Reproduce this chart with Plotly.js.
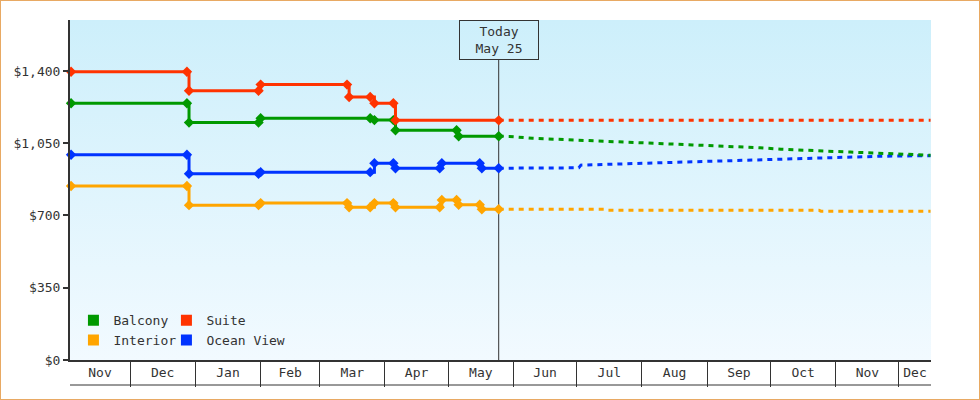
<!DOCTYPE html>
<html>
<head>
<meta charset="utf-8">
<script src="https://cdn.plot.ly/plotly-3.0.1.min.js"></script>
<style>
  body { margin: 0; background: #fff; }
  #wrap { position: relative; width: 980px; height: 400px; }
  #frame { position: absolute; left: 0; top: 0; width: 978px; height: 398px;
           border: 1px solid #e8a963; pointer-events: none; }
</style>
</head>
<body>
<div id="wrap">
  <div id="graph" style="width:980px;height:400px;"></div>
  <div id="frame"></div>
</div>
<script>
// observed prices (solid, with markers)
var balconyDates = ['2022-11-03','2022-12-28','2022-12-29','2023-01-31','2023-02-01','2023-03-25','2023-03-27','2023-04-05','2023-04-06','2023-05-05','2023-05-06','2023-05-25'];
var balconyPrices = [1244, 1244, 1150, 1150, 1171, 1171, 1162, 1162, 1113, 1113, 1084, 1084];

var suiteDates = ['2022-11-03','2022-12-28','2022-12-29','2023-01-31','2023-02-01','2023-03-14','2023-03-15','2023-03-25','2023-03-27','2023-04-05','2023-04-06','2023-05-25'];
var suitePrices = [1396, 1396, 1304, 1304, 1334, 1334, 1274, 1274, 1244, 1244, 1161, 1161];

var interiorDates = ['2022-11-03','2022-12-28','2022-12-29','2023-01-31','2023-02-01','2023-03-14','2023-03-15','2023-03-25','2023-03-27','2023-04-05','2023-04-06','2023-04-27','2023-04-28','2023-05-05','2023-05-06','2023-05-16','2023-05-17','2023-05-25'];
var interiorPrices = [843, 843, 750, 750, 760, 760, 740, 740, 760, 760, 740, 740, 775, 775, 752, 752, 730, 730];

var oceanDates = ['2022-11-03','2022-12-28','2022-12-29','2023-01-31','2023-02-01','2023-03-25','2023-03-27','2023-04-05','2023-04-06','2023-04-27','2023-04-28','2023-05-16','2023-05-17','2023-05-25'];
var oceanPrices = [994, 994, 902, 902, 910, 910, 953, 953, 929, 929, 953, 953, 929, 929];

// forecast (dashed)
var balconyFcDates = ['2023-05-25','2023-05-30','2023-06-10','2023-07-12','2023-08-25','2023-09-26','2023-10-06','2023-11-08','2023-11-19','2023-12-16'];
var balconyFcPrices = [1084, 1083, 1074, 1062, 1042, 1028, 1021, 1007, 1002, 992];

var suiteFcDates = ['2023-05-25','2023-12-16'];
var suiteFcPrices = [1161, 1161];

var interiorFcDates = ['2023-05-25','2023-07-14','2023-07-15','2023-10-24','2023-10-25','2023-12-16'];
var interiorFcPrices = [730, 730, 725, 725, 721, 721];

var oceanFcDates = ['2023-05-25','2023-07-02','2023-07-03','2023-08-19','2023-10-05','2023-11-22','2023-12-16'];
var oceanFcPrices = [929, 931, 944, 958, 973, 987, 990];

var monthStarts = ['2022-12-01','2023-01-01','2023-02-01','2023-03-01','2023-04-01','2023-05-01','2023-06-01','2023-07-01','2023-08-01','2023-09-01','2023-10-01','2023-11-01','2023-12-01'];
var monthNames = ['Nov','Dec','Jan','Feb','Mar','Apr','May','Jun','Jul','Aug','Sep','Oct','Nov','Dec'];
var yTicks = [0, 350, 700, 1050, 1400];

var rangeStart = '2022-11-02 12:00';
var rangeEnd = '2023-12-16 05:00';
var today = '2023-05-25';

var colors = {balcony: '#009900', suite: '#ff3300', interior: '#ffa500', ocean: '#0033ff'};
var font = {family: 'DejaVu Sans Mono, monospace', size: 13, color: '#333'};

// centre each month label in the visible part of its month
function ms(d) { return new Date(d.replace(' ', 'T') + (d.length > 10 ? ':00Z' : 'T00:00:00Z')).getTime(); }
var edges = [ms(rangeStart)].concat(monthStarts.map(ms)).concat([ms(rangeEnd)]);
var labelPos = [];
for (var i = 0; i < edges.length - 1; i++) {
  labelPos.push(new Date((edges[i] + edges[i + 1]) / 2).toISOString().slice(0, 19).replace('T', ' '));
}
var yLabels = yTicks.map(function(v) { return '$' + v.toLocaleString('en-US'); });

function observed(x, y, c) {
  return {x: x, y: y, mode: 'lines+markers', line: {shape: 'hv', color: c, width: 3},
          marker: {symbol: 'diamond', size: 8, color: c}, showlegend: false, cliponaxis: false};
}
function forecast(x, y, c) {
  return {x: x, y: y, mode: 'lines', line: {color: c, width: 3, dash: '5px,5px'}, showlegend: false};
}
function key(name, c, lg) {
  return {x: [null], y: [null], mode: 'markers', name: name, legend: lg,
          marker: {symbol: 'square', size: 11, color: c}};
}

var data = [
  forecast(interiorFcDates, interiorFcPrices, colors.interior),
  observed(interiorDates, interiorPrices, colors.interior),
  forecast(oceanFcDates, oceanFcPrices, colors.ocean),
  observed(oceanDates, oceanPrices, colors.ocean),
  forecast(balconyFcDates, balconyFcPrices, colors.balcony),
  observed(balconyDates, balconyPrices, colors.balcony),
  forecast(suiteFcDates, suiteFcPrices, colors.suite),
  observed(suiteDates, suitePrices, colors.suite),
  key('Balcony', colors.balcony, 'legend'),
  key('Interior', colors.interior, 'legend'),
  key('Suite', colors.suite, 'legend2'),
  key('Ocean View', colors.ocean, 'legend2')
];

var bg = "<svg xmlns='http://www.w3.org/2000/svg' width='10' height='100' preserveAspectRatio='none'>" +
  "<defs><linearGradient id='g' x1='0' y1='0' x2='0' y2='1'>" +
  "<stop offset='0' stop-color='#cdeffb'/><stop offset='1' stop-color='#f2faff'/></linearGradient></defs>" +
  "<rect width='10' height='100' fill='url(#g)'/></svg>";

var legendBase = {orientation: 'v', bgcolor: 'rgba(0,0,0,0)', font: font, yanchor: 'top',
                  xanchor: 'left', itemclick: false, tracegroupgap: 0};

var layout = {
  width: 980, height: 400,
  margin: {l: 70, r: 49, t: 20, b: 40, pad: 0},
  paper_bgcolor: '#fff', plot_bgcolor: '#fff',
  font: font,
  showlegend: true,
  legend: Object.assign({x: 0.004, y: 0.161}, legendBase),
  legend2: Object.assign({x: 0.112, y: 0.161}, legendBase),
  xaxis: {
    type: 'date', range: [rangeStart, rangeEnd],
    tickmode: 'array', tickvals: labelPos, ticktext: monthNames,
    ticks: 'outside', ticklen: 0, tickfont: font,
    minor: {tickmode: 'array', tickvals: monthStarts, ticks: 'outside', ticklen: 25, tickwidth: 1, tickcolor: '#333', showgrid: false},
    showgrid: false, zeroline: false,
    showline: true, linecolor: '#333', linewidth: 1.5
  },
  yaxis: {
    range: [0, 1647], tickmode: 'array', tickvals: yTicks, ticktext: yLabels,
    ticks: 'outside', ticklen: 5, tickwidth: 2, tickcolor: '#333', tickfont: font,
    showgrid: false, zeroline: false,
    showline: true, linecolor: '#333', linewidth: 2
  },
  images: [{source: 'data:image/svg+xml;charset=utf-8,' + encodeURIComponent(bg),
            xref: 'paper', yref: 'paper', x: 0, y: 1, sizex: 1, sizey: 1,
            sizing: 'stretch', layer: 'below'}],
  shapes: [
    {type: 'line', xref: 'x', yref: 'paper', x0: today, x1: today, y0: 0, y1: 1 - 40 / 340,
     line: {color: '#333', width: 1}, layer: 'below'},
    {type: 'line', xref: 'paper', yref: 'paper', x0: 0, x1: 1, y0: -25 / 340, y1: -25 / 340,
     line: {color: '#333', width: 1}}
  ],
  annotations: [{
    x: today, xref: 'x', y: 1, yref: 'paper', yanchor: 'top', xanchor: 'center',
    text: 'Today<br>May 25', showarrow: false, font: font, align: 'center',
    bordercolor: '#333', borderwidth: 1, borderpad: 2, width: 74, height: 34,
    bgcolor: 'rgba(0,0,0,0)'
  }]
};

Plotly.newPlot('graph', data, layout, {displayModeBar: false, staticPlot: true});
</script>
</body>
</html>
